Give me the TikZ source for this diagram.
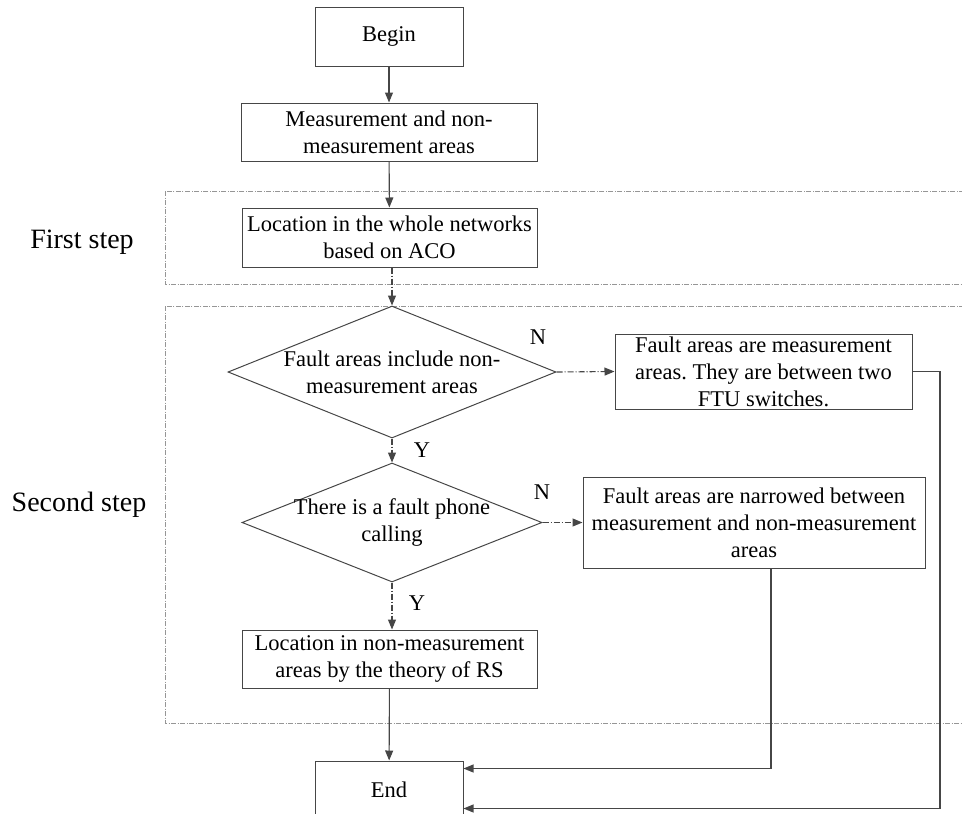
\documentclass[tikz,border=0pt]{standalone}
\usepackage{color}
\usepackage{fontspec}
\setmainfont{Liberation Serif}
\usepackage{tikz}
\usetikzlibrary{shapes.geometric,arrows.meta}
\definecolor{linegray}{RGB}{70,70,70}
\definecolor{framegray}{RGB}{150,150,150}
\frenchspacing

\begin{document}
\begin{tikzpicture}[x=1pt,y=-1pt,
  every node/.style={font=\fontsize{22.5}{27}\selectfont},
  box/.style={draw=linegray,line width=1pt,rectangle,align=center,inner sep=0pt},
  dia/.style={draw=linegray,line width=1pt,diamond,inner sep=0pt},
  flow/.style={linegray,line width=1.1pt,-{Triangle[length=10pt,width=8pt]}},
  dflow/.style={flow,dash pattern=on 6pt off 2pt on 1pt off 2pt},
  frame/.style={framegray,line width=1pt,dash pattern=on 5pt off 1.5pt on 1pt off 1.5pt},
  steplabel/.style={anchor=base,font=\fontsize{28}{32}\selectfont}]
\clip (0,0) rectangle (962,814);

% the two steps
\draw [frame] (165,191) rectangle (980,284);
\draw [frame] (165,306) rectangle (980,723);
\node [steplabel] (first) at (82,248) {First step};
\node [steplabel] (second) at (79,511) {Second step};

\node [box,minimum width=148pt,minimum height=59pt] (begin) at (389,36.5) {Begin};
\node [box,minimum width=296pt,minimum height=58pt] (meas) at (389,132) {Measurement and non-\\measurement areas};
\node [box,minimum width=295pt,minimum height=59pt] (aco) at (389.5,237.5) {Location in the whole networks\\based on ACO};
\draw [flow] (begin) -- (meas);
\draw [flow] (meas) -- (aco);

\node [dia,minimum width=328pt,minimum height=132pt,
  label={[align=center]center:Fault areas include non-\\measurement areas}] (inc) at (392,372) {};
\draw [dflow] (aco.south -| inc.north) -- (inc.north);
\node [box,minimum width=297pt,minimum height=75pt] (ftu) at (763.5,371.5) {Fault areas are measurement\\areas. They are between two\\FTU switches.};
\draw [dflow] (inc.east) -- (ftu.west);
\node (n1) at (538,337) {N};

\node [dia,minimum width=300pt,minimum height=119pt,
  label={[align=center]center:There is a fault phone\\calling}] (phone) at (392,522.5) {};
\draw [dflow] (inc.south) -- (phone.north);
\node (y1) at (422,450) {Y};
\node [box,minimum width=342pt,minimum height=91pt] (narrow) at (754,522.5) {Fault areas are narrowed between\\measurement and non-measurement\\areas};
\draw [dflow] (phone.east) -- (narrow.west);
\node (n2) at (542,492) {N};

\node [box,minimum width=295pt,minimum height=58pt] (rs) at (389.5,659) {Location in non-measurement\\areas by the theory of RS};
\draw [dflow] (phone.south) -- (phone.south |- rs.north);
\node (y2) at (417,603) {Y};

\node [box,minimum width=148pt,minimum height=80pt] (end) at (389,801) {};
\node (endtxt) at (389,790) {End};
\draw [flow] (rs) -- (end);

\coordinate (e1) at ([yshift=-8pt]end.north east);
\coordinate (e2) at ([yshift=-48pt]end.north east);
\coordinate (r1) at (940,371.5);
\draw [flow] ([xshift=17pt]narrow.south) |- (e1);
\draw [flow] (ftu.east) -- (r1) |- (e2);
\end{tikzpicture}
\end{document}
